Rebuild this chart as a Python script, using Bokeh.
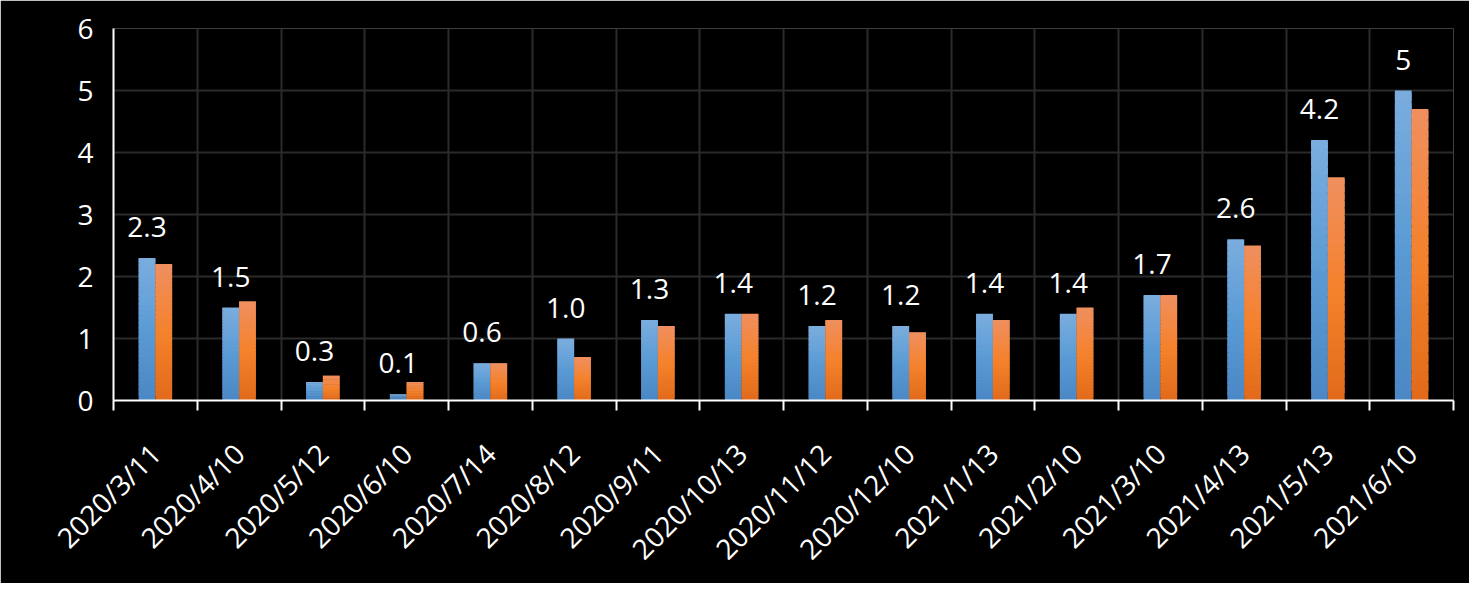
import numpy as np
from bokeh.plotting import figure
from bokeh.models import ColumnDataSource, FixedTicker, LabelSet, Range1d
from bokeh.core.properties import value
from bokeh.embed import file_html
from bokeh.resources import INLINE

# ---- data ----
dates = ["2020/3/11", "2020/4/10", "2020/5/12", "2020/6/10", "2020/7/14",
         "2020/8/12", "2020/9/11", "2020/10/13", "2020/11/12", "2020/12/10",
         "2021/1/13", "2021/2/10", "2021/3/10", "2021/4/13", "2021/5/13",
         "2021/6/10"]
series_blue = [2.3, 1.5, 0.3, 0.1, 0.6, 1.0, 1.3, 1.4, 1.2, 1.2, 1.4, 1.4, 1.7, 2.6, 4.2, 5.0]
series_orange = [2.2, 1.6, 0.4, 0.3, 0.6, 0.7, 1.2, 1.4, 1.3, 1.1, 1.3, 1.5, 1.7, 2.5, 3.6, 4.7]
blue_labels = ["2.3", "1.5", "0.3", "0.1", "0.6", "1.0", "1.3", "1.4", "1.2", "1.2",
               "1.4", "1.4", "1.7", "2.6", "4.2", "5"]
y_ticks = [0, 1, 2, 3, 4, 5, 6]

FONT = "Open Sans"
FS = "28px"
n = len(dates)
centers = [i + 0.5 for i in range(n)]
bounds = list(range(n + 1))
BAR_W = 0.2

blue_stops = [(0.0, "#4a87c4"), (0.5, "#5b9bd5"), (1.0, "#7badde")]
orange_stops = [(0.0, "#e06a1a"), (0.5, "#f5822c"), (1.0, "#ef8f60")]


def hex2rgb(h):
    h = h.lstrip("#")
    return [int(h[i:i + 2], 16) for i in (0, 2, 4)]


def grad(stops, t):
    for (t0, c0), (t1, c1) in zip(stops[:-1], stops[1:]):
        if t <= t1:
            f = (t - t0) / (t1 - t0)
            a, b = hex2rgb(c0), hex2rgb(c1)
            return "#%02x%02x%02x" % tuple(int(round(a[k] + (b[k] - a[k]) * f)) for k in range(3))
    return stops[-1][1]


NSEG = 30


def segments(values, offset, stops):
    xs, bots, tops, cols = [], [], [], []
    for i, v in enumerate(values):
        for k in range(NSEG):
            xs.append(centers[i] + offset)
            bots.append(v * k / NSEG)
            tops.append(v * min(k + 1.8, NSEG) / NSEG)
            cols.append(grad(stops, (k + 0.5) / NSEG))
    return ColumnDataSource(dict(x=xs, bottom=bots, top=tops, color=cols))


p = figure(width=1469, height=583, output_backend="svg", toolbar_location=None,
           x_range=Range1d(0, n), y_range=Range1d(0, 6),
           min_border_left=113, min_border_right=16, min_border_top=28,
           min_border_bottom=183,
           background_fill_color="black", border_fill_color="black",
           outline_line_color=None)

p.vbar(x="x", bottom="bottom", top="top", width=BAR_W, fill_color="color",
       line_color=None, source=segments(series_blue, -BAR_W / 2, blue_stops))
p.vbar(x="x", bottom="bottom", top="top", width=BAR_W, fill_color="color",
       line_color=None, source=segments(series_orange, BAR_W / 2, orange_stops))

lab_src = ColumnDataSource(dict(x=[c - BAR_W / 2 for c in centers], y=series_blue, text=blue_labels))
p.add_layout(LabelSet(x="x", y="y", text="text", source=lab_src, y_offset=21,
                      text_align="center", text_baseline="alphabetic",
                      text_color="white", text_font=value(FONT), text_font_size=FS))

# grids
p.xgrid.ticker = FixedTicker(ticks=bounds)
p.xgrid.grid_line_color = "#2a2a2a"
p.xgrid.grid_line_width = 2
p.ygrid.ticker = FixedTicker(ticks=y_ticks)
p.ygrid.grid_line_color = "#2a2a2a"
p.ygrid.grid_line_width = 2

# x axis
xa = p.xaxis[0]
xa.ticker = FixedTicker(ticks=centers, minor_ticks=bounds)
xa.major_label_overrides = {c: d for c, d in zip(centers, dates)}
xa.major_tick_line_color = None
xa.major_tick_out = 0
xa.major_tick_in = 0
xa.minor_tick_line_color = "white"
xa.minor_tick_line_width = 2
xa.minor_tick_out = 10
xa.minor_tick_in = 0
xa.axis_line_color = "white"
xa.axis_line_width = 2
xa.major_label_orientation = np.pi / 4
xa.major_label_text_color = "white"
xa.major_label_text_font = FONT
xa.major_label_text_font_size = FS
xa.major_label_standoff = 38

# y axis
ya = p.yaxis[0]
ya.ticker = FixedTicker(ticks=y_ticks)
ya.major_tick_line_color = None
ya.minor_tick_line_color = None
ya.major_tick_out = 0
ya.major_tick_in = 0
ya.axis_line_color = "white"
ya.axis_line_width = 2
ya.major_label_text_color = "white"
ya.major_label_text_font = FONT
ya.major_label_text_font_size = FS
ya.major_label_standoff = 20

open("out.html", "w").write(file_html(p, INLINE))
